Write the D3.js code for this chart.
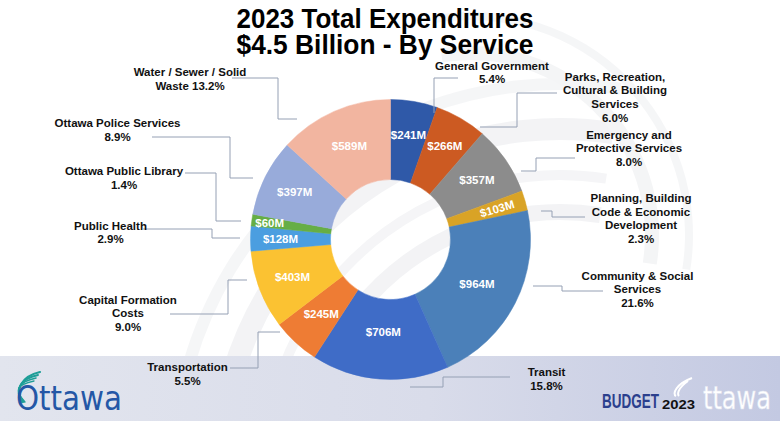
<!DOCTYPE html>
<html><head><meta charset="utf-8">
<script src="https://cdn.jsdelivr.net/npm/d3@7"></script>
<style>html,body{margin:0;padding:0;background:#fff}svg{display:block}</style>
</head><body>
<svg id="chart" width="780" height="421"></svg>
<script>
// ---------- DATA ----------
const categories = ["General Government","Parks, Recreation, Cultural & Building Services","Emergency and Protective Services","Planning, Building Code & Economic Development","Community & Social Services","Transit","Transportation","Capital Formation Costs","Public Health","Ottawa Public Library","Ottawa Police Services","Water / Sewer / Solid Waste"];
const values = [241, 266, 357, 103, 964, 706, 245, 403, 128, 60, 397, 589];
const valueLabels = ["$241M","$266M","$357M","$103M","$964M","$706M","$245M","$403M","$128M","$60M","$397M","$589M"];
const percentLabels = ["5.4%","6.0%","8.0%","2.3%","21.6%","15.8%","5.5%","9.0%","2.9%","1.4%","8.9%","13.2%"];
const titleLines = ["2023 Total Expenditures","$4.5 Billion - By Service"];

// ---------- STYLE / LAYOUT ----------
const colors = ["#2f59a8","#cc5a22","#8c8c8c","#d9a326","#4b80b9","#3f6cc7","#ee7c34","#fbc232","#4b9ee0","#66ae45","#98abda","#f2b5a0"];
const cx = 390.5, cy = 239.5, rIn = 60, rOut = 140;
const valueR = [106,108,105,111,97,93,102,105,110,122,107,102];
const rotateLabel = [false,false,false,true,false,false,false,false,false,false,false,false];
const labelLayout = [
  {x:492, y:69.5, lines:["General Government", "5.4%"], leader:[[458,78],[434,78],[434,113]]},
  {x:615, y:80.5, lines:["Parks, Recreation,","Cultural & Building","Services","6.0%"], leader:[[557,93],[517,93],[517,127],[480,127]]},
  {x:629, y:138.5, lines:["Emergency and","Protective Services","8.0%"], leader:[[575,158],[536,158],[536,171],[521,171]]},
  {x:641, y:202, lines:["Planning, Building","Code & Economic","Development","2.3%"], leader:[[585,217],[552,217],[552,211],[541,211]]},
  {x:637.5, y:279.5, lines:["Community & Social","Services","21.6%"], leader:[[603,291],[562,291],[562,286],[533,286]]},
  {x:546.5, y:376, lines:["Transit","15.8%"], leader:[[510,377],[443,377],[443,387],[410,387]]},
  {x:187.5, y:371, lines:["Transportation","5.5%"], leader:[[230,368],[258,368],[258,332],[280,332]]},
  {x:128, y:303.5, lines:["Capital Formation","Costs","9.0%"], leader:[[170,314],[228,314],[228,280],[247,280]]},
  {x:110.5, y:229.5, lines:["Public Health","2.9%"], leader:[[143,229],[212,229],[212,238],[240,238]]},
  {x:124, y:175, lines:["Ottawa Public Library","1.4%"], leader:[[185,173],[216,173],[216,221],[241,221]]},
  {x:117.5, y:127, lines:["Ottawa Police Services","8.9%"], leader:[[152,137],[230,137],[230,178],[253,178]]},
  {x:190, y:76, lines:["Water / Sewer / Solid","Waste 13.2%"], leader:[[232,78],[278,78],[278,119],[297,119]]}
];
const lineGap = 13.7;

const svg = d3.select("#chart");
const defs = svg.append("defs");
const bandGrad = defs.append("linearGradient").attr("id","band").attr("x1","0").attr("x2","1").attr("y1","0").attr("y2","0");
bandGrad.append("stop").attr("offset","0").attr("stop-color","#e2e5ee");
bandGrad.append("stop").attr("offset","0.55").attr("stop-color","#d9dcea");
bandGrad.append("stop").attr("offset","1").attr("stop-color","#c3c9e2");

// background
svg.append("rect").attr("width",780).attr("height",421).attr("fill","#ffffff");
const swirl = svg.append("g").attr("fill","none").attr("opacity",0.7);
[[250,16,"#eeeff2"],[290,10,"#f1f2f4"],[330,22,"#eeeff2"],[380,12,"#f2f3f5"]].forEach(([r,w,c])=>{
  swirl.append("path")
    .attr("d", d3.arc().innerRadius(r).outerRadius(r+w).startAngle(-Math.PI*0.62).endAngle(Math.PI*0.05)())
    .attr("transform","translate(560,470)").attr("fill",c);
});
[[175,14,"#f0f1f3"],[215,8,"#f2f3f5"]].forEach(([r,w,c])=>{
  swirl.append("path")
    .attr("d", d3.arc().innerRadius(r).outerRadius(r+w).startAngle(-Math.PI*0.05).endAngle(Math.PI*0.55)())
    .attr("transform","translate(470,235)").attr("fill",c);
});
svg.append("rect").attr("x",0).attr("y",356).attr("width",780).attr("height",65).attr("fill","url(#band)");

// title: two lines, slightly condensed bold
svg.append("g").selectAll("text").data(titleLines).join("text")
  .attr("transform",(d,i)=>`translate(385,${28+i*25.5}) scale(1,1.25)`)
  .attr("text-anchor","middle")
  .attr("font-family","Liberation Sans, Arial, sans-serif")
  .attr("font-weight","bold").attr("font-size",22.5)
  .attr("textLength",297).attr("lengthAdjust","spacingAndGlyphs")
  .attr("fill","#000").text(d=>d);

// donut
const pie = d3.pie().sort(null).value(d=>d).startAngle(0).endAngle(2*Math.PI);
const arcs = pie(values);
const arc = d3.arc().innerRadius(rIn).outerRadius(rOut);
const g = svg.append("g").attr("transform",`translate(${cx},${cy})`);
g.selectAll("path").data(arcs).join("path")
  .attr("d",arc).attr("fill",(d,i)=>colors[i])
  .attr("stroke",(d,i)=>colors[i]).attr("stroke-width",0.5);

g.selectAll("text.val").data(arcs).join("text").attr("class","val")
  .attr("transform",(d,i)=>{
    const a=(d.startAngle+d.endAngle)/2;
    const x=Math.sin(a)*valueR[i], y=-Math.cos(a)*valueR[i];
    const rot = rotateLabel[i] ? (a*180/Math.PI-90) : 0;
    return `translate(${x},${y}) rotate(${rot})`;
  })
  .attr("text-anchor","middle").attr("dominant-baseline","central")
  .attr("font-family","Liberation Sans, Arial, sans-serif").attr("font-weight","bold")
  .attr("font-size",11.5).attr("fill","#fff")
  .text((d,i)=>valueLabels[i]);

// leaders
const line = d3.line();
svg.append("g").selectAll("path").data(labelLayout).join("path")
  .attr("d",d=>line(d.leader)).attr("fill","none")
  .attr("stroke","#95a0b4").attr("stroke-width",1);

// category labels
const lg = svg.append("g").attr("font-family","Liberation Sans, Arial, sans-serif")
  .attr("font-weight","bold").attr("font-size",11.5).attr("fill","#111").attr("text-anchor","middle");
labelLayout.forEach((L,i)=>{
  const t = lg.append("text").attr("x",L.x).attr("y",L.y);
  L.lines.forEach((s,j)=>t.append("tspan").attr("x",L.x).attr("dy",j===0?0:lineGap).text(s));
});

// Ottawa logo (bottom-left)
const logo = svg.append("g");
logo.append("g").attr("fill","none").attr("stroke","#1f9e98").attr("stroke-linecap","round")
  .selectAll("path").data([0,1,2,3]).join("path")
  .attr("d",k=>`M${40-k*2},${372+k*3} C${22-k*2},${376+k*3} ${14},${390} ${22+k},${402}`)
  .attr("stroke-width",k=>2.2-k*0.3);
logo.append("text").attr("x",16).attr("y",410)
  .attr("font-family","Liberation Sans Narrow, DejaVu Sans Condensed, sans-serif").attr("font-size",33)
  .attr("textLength",106).attr("lengthAdjust","spacingAndGlyphs")
  .attr("fill","#2457a6").text("Ottawa");

// Budget 2023 logo (bottom-right)
svg.append("text").attr("transform","translate(602,408) scale(1,1.5)")
  .attr("font-family","Liberation Sans, Arial, sans-serif").attr("font-weight","bold").attr("font-size",13.5)
  .attr("textLength",57).attr("lengthAdjust","spacingAndGlyphs").attr("fill","#2b3f8d").text("BUDGET");
svg.append("text").attr("x",662).attr("y",409)
  .attr("font-family","Liberation Sans, Arial, sans-serif").attr("font-weight","bold").attr("font-size",13)
  .attr("textLength",33).attr("lengthAdjust","spacingAndGlyphs").attr("fill","#111").text("2023");
svg.append("path").attr("fill","none").attr("stroke","#ffffff").attr("stroke-width",2)
  .attr("d","M692,378 C676,384 672,394 676,396 M688,381 C678,388 677,394 679,396");
svg.append("text").attr("transform","translate(703,409) scale(1,1.25)")
  .attr("font-family","Liberation Sans Narrow, DejaVu Sans Condensed, sans-serif").attr("font-size",26)
  .attr("textLength",68).attr("lengthAdjust","spacingAndGlyphs")
  .attr("fill","#ffffff").attr("stroke","#e4e7f2").attr("stroke-width",0.4).text("ttawa");
</script>
</body></html>
